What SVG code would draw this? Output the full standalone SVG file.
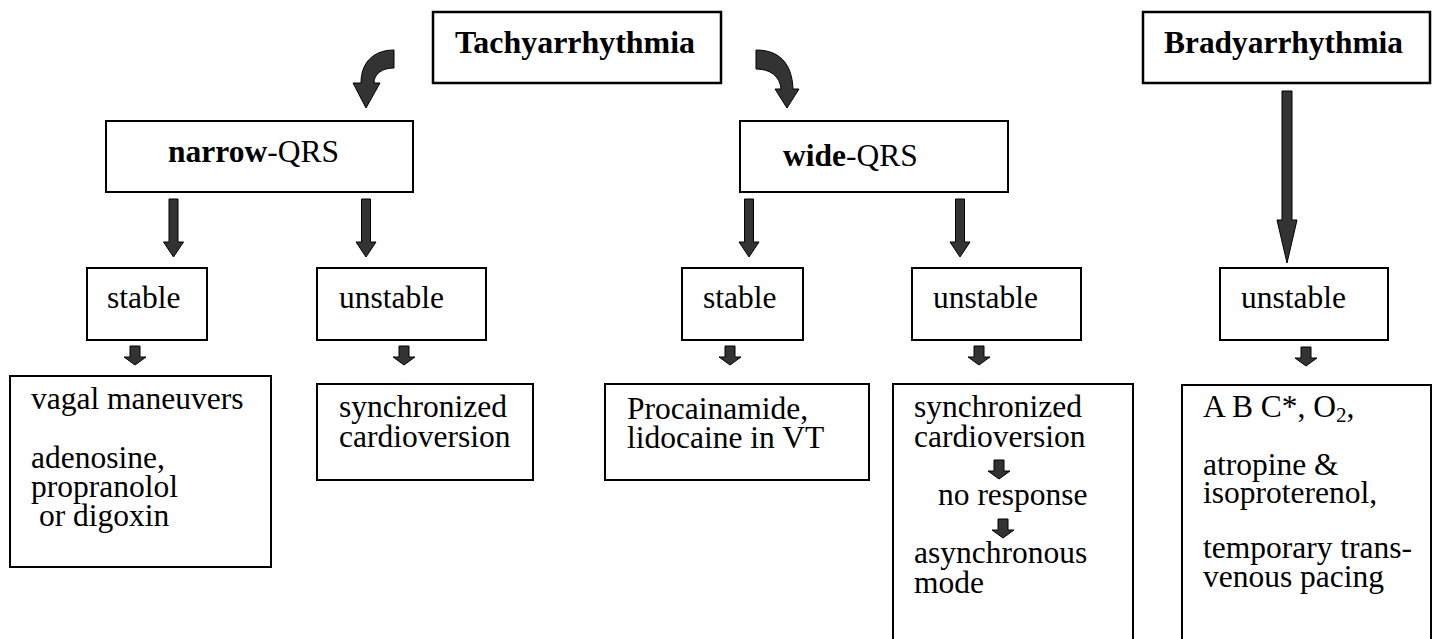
<svg xmlns="http://www.w3.org/2000/svg" width="1436" height="639" viewBox="0 0 1436 639">
<style>
.box{fill:#fff;stroke:#000;stroke-width:2}
.tbox{fill:#fff;stroke:#000;stroke-width:2.5}
.t{font-family:"Liberation Serif","Times New Roman",Times,"DejaVu Serif",serif;font-size:31.5px;fill:#000;font-weight:normal}
.b{font-weight:bold}
.arr{fill:#333;stroke:#000;stroke-width:1;stroke-linejoin:miter}
</style>
<defs>
<path id="big" d="M -4.5 0 L 4.5 0 L 4.5 43 L 10 43 L 0 58 L -10 43 L -4.5 43 Z"/>
<path id="small" d="M -5 0 L 5 0 L 5 11 L 11 11 L 0 19 L -11 11 L -5 11 Z"/>
</defs>
<rect width="1436" height="639" fill="#fff"/>

<g id="connectors">
<path class="arr" d="M 394 50 L 394 68 C 382 68 374 74 374 83 L 380 83 L 366 108 L 353 83 L 361 83 C 361 62 374 50 394 50 Z"/>
<path class="arr" d="M 756 50 C 778 50 792 62 793 89 L 799 89 L 787 108 L 775 89 L 781 89 C 780 76 770 69 756 69 Z"/>
<use href="#big" class="arr" x="173.5" y="199"/>
<use href="#big" class="arr" x="366" y="199"/>
<use href="#big" class="arr" x="749" y="199"/>
<use href="#big" class="arr" x="960" y="199"/>
<path class="arr" d="M 1282 91 L 1292 91 L 1292 220 L 1297 220 L 1287 263 L 1277 220 L 1282 220 Z"/>
<use href="#small" class="arr" x="135" y="346"/>
<use href="#small" class="arr" x="404" y="346"/>
<use href="#small" class="arr" x="730" y="346"/>
<use href="#small" class="arr" x="979" y="346"/>
<use href="#small" class="arr" x="1306" y="347"/>
</g>

<g id="tachy">
<rect class="tbox" x="433" y="12" width="288" height="71"/>
<text class="t b" x="455" y="53" textLength="240" lengthAdjust="spacingAndGlyphs">Tachyarrhythmia</text>
</g>
<g id="brady">
<rect class="tbox" x="1143" y="12" width="287" height="71"/>
<text class="t b" x="1164" y="53" textLength="239" lengthAdjust="spacingAndGlyphs">Bradyarrhythmia</text>
</g>

<g id="narrow">
<rect class="box" x="106" y="121" width="307" height="71"/>
<text class="t" x="168" y="162"><tspan class="b">narrow</tspan>-QRS</text>
</g>
<g id="wide">
<rect class="box" x="740" y="121" width="268" height="71"/>
<text class="t" x="783" y="166"><tspan class="b">wide</tspan>-QRS</text>
</g>

<g id="narrow-stable">
<rect class="box" x="87" y="268" width="120" height="72"/>
<text class="t" x="107" y="308">stable</text>
</g>
<g id="narrow-unstable">
<rect class="box" x="317" y="268" width="169" height="72"/>
<text class="t" x="339" y="308">unstable</text>
</g>
<g id="wide-stable">
<rect class="box" x="682" y="268" width="121" height="72"/>
<text class="t" x="703" y="308">stable</text>
</g>
<g id="wide-unstable">
<rect class="box" x="912" y="268" width="169" height="72"/>
<text class="t" x="933" y="308">unstable</text>
</g>
<g id="brady-unstable">
<rect class="box" x="1220" y="268" width="168" height="72"/>
<text class="t" x="1241" y="308">unstable</text>
</g>

<g id="vagal">
<rect class="box" x="10" y="376" width="261" height="191"/>
<text class="t" x="31" y="409">vagal maneuvers</text>
<text class="t" x="31" y="468">adenosine,</text>
<text class="t" x="31" y="497">propranolol</text>
<text class="t" x="39" y="526">or digoxin</text>
</g>
<g id="sync1">
<rect class="box" x="317" y="384" width="216" height="96"/>
<text class="t" x="339" y="417">synchronized</text>
<text class="t" x="339" y="447">cardioversion</text>
</g>
<g id="procainamide">
<rect class="box" x="605" y="384" width="264" height="96"/>
<text class="t" x="627" y="419">Procainamide,</text>
<text class="t" x="627" y="448">lidocaine in VT</text>
</g>
<g id="sync2">
<rect class="box" x="893" y="384" width="240" height="270"/>
<text class="t" x="914" y="417">synchronized</text>
<text class="t" x="914" y="447">cardioversion</text>
<use href="#small" class="arr" x="999" y="460"/>
<text class="t" x="938" y="505">no response</text>
<use href="#small" class="arr" x="1003" y="519"/>
<text class="t" x="914" y="563">asynchronous</text>
<text class="t" x="914" y="593">mode</text>
</g>
<g id="brady-tx">
<rect class="box" x="1182" y="385" width="249" height="270"/>
<text class="t" x="1203" y="417">A B C*, O<tspan font-size="21" dy="5">2</tspan><tspan dy="-5">,</tspan></text>
<text class="t" x="1203" y="475">atropine &amp;</text>
<text class="t" x="1203" y="503">isoproterenol,</text>
<text class="t" x="1203" y="558">temporary trans-</text>
<text class="t" x="1203" y="587">venous pacing</text>
</g>
</svg>
